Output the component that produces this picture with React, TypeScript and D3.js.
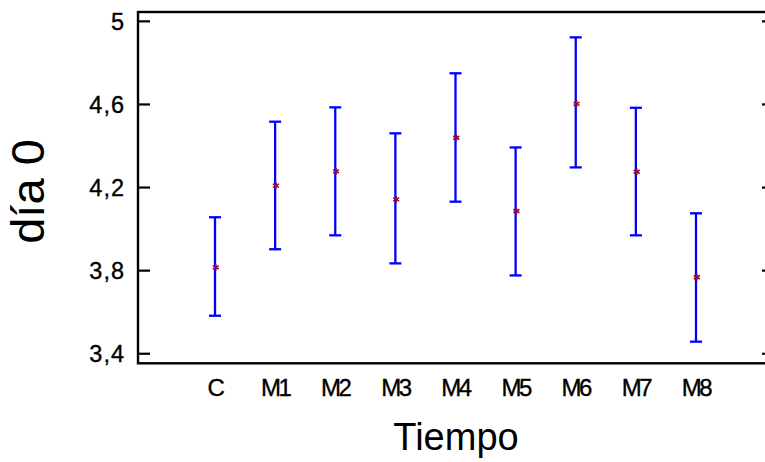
import React from "react";
import * as d3 from "d3";

const categories = ["C", "M1", "M2", "M3", "M4", "M5", "M6", "M7", "M8"];
const means = [3.816, 4.209, 4.278, 4.143, 4.44, 4.087, 4.603, 4.276, 3.768];
const lowers = [3.583, 3.903, 3.97, 3.835, 4.132, 3.777, 4.297, 3.97, 3.458];
const uppers = [4.057, 4.517, 4.586, 4.461, 4.75, 4.393, 4.923, 4.584, 4.076];
const yTicks = [3.4, 3.8, 4.2, 4.6, 5];
const yTickLabels = ["3,4", "3,8", "4,2", "4,6", "5"];

const W = 765;
const H = 462;
const left = 138;
const right = 774;
const top = 12;
const bottom = 363.3;

export default function App() {
  const y = d3.scaleLinear().domain([3.354, 5.045]).range([bottom, top]);
  const x = d3.scalePoint<string>().domain(categories).range([215, 696]);
  const star = d3.symbol().type(d3.symbolAsterisk).size(34)() as string;
  const font = "'Liberation Sans', Arial, sans-serif";
  return (
    <svg
      width={W}
      height={H}
      style={{ position: "absolute", left: 0, top: 0, background: "#fff" }}
      fontFamily={font}
    >
      <rect x={left} y={top} width={right - left} height={bottom - top} fill="none" stroke="#000" strokeWidth={2.4} />
      {yTicks.map((t, i) => (
        <g key={t}>
          <line x1={left} x2={left + 12} y1={y(t)} y2={y(t)} stroke="#000" strokeWidth={2.2} />
          <line x1={right - 12} x2={right} y1={y(t)} y2={y(t)} stroke="#000" strokeWidth={2.2} />
          <text x={125} y={y(t)} dy="0.37em" textAnchor="end" fontSize={23.5} letterSpacing={1} fill="#000" stroke="#000" strokeWidth={0.35}>
            {yTickLabels[i]}
          </text>
        </g>
      ))}
      {categories.map((c, i) => {
        const cx = x(c) as number;
        return (
          <g key={c}>
            <line x1={cx} x2={cx} y1={y(uppers[i])} y2={y(lowers[i])} stroke="#0000ff" strokeWidth={2.3} />
            <line x1={cx - 6} x2={cx + 6} y1={y(uppers[i])} y2={y(uppers[i])} stroke="#0000ff" strokeWidth={2.3} />
            <line x1={cx - 6} x2={cx + 6} y1={y(lowers[i])} y2={y(lowers[i])} stroke="#0000ff" strokeWidth={2.3} />
            <path d={star} transform={`translate(${cx + 0.8},${y(means[i])})`} fill="none" stroke="#8c0a46" strokeWidth={1.6} />
            <text x={cx} y={396} textAnchor="middle" fontSize={24} letterSpacing={-2.5} fill="#000" stroke="#000" strokeWidth={0.35}>
              {c}
            </text>
          </g>
        );
      })}
      <text x={456} y={450} textAnchor="middle" fontSize={38} fill="#000">
        Tiempo
      </text>
      <text
        transform={`translate(44,${191.5}) rotate(-90)`}
        textAnchor="middle"
        fontSize={47}
        fill="#000"
      >
        día 0
      </text>
    </svg>
  );
}
